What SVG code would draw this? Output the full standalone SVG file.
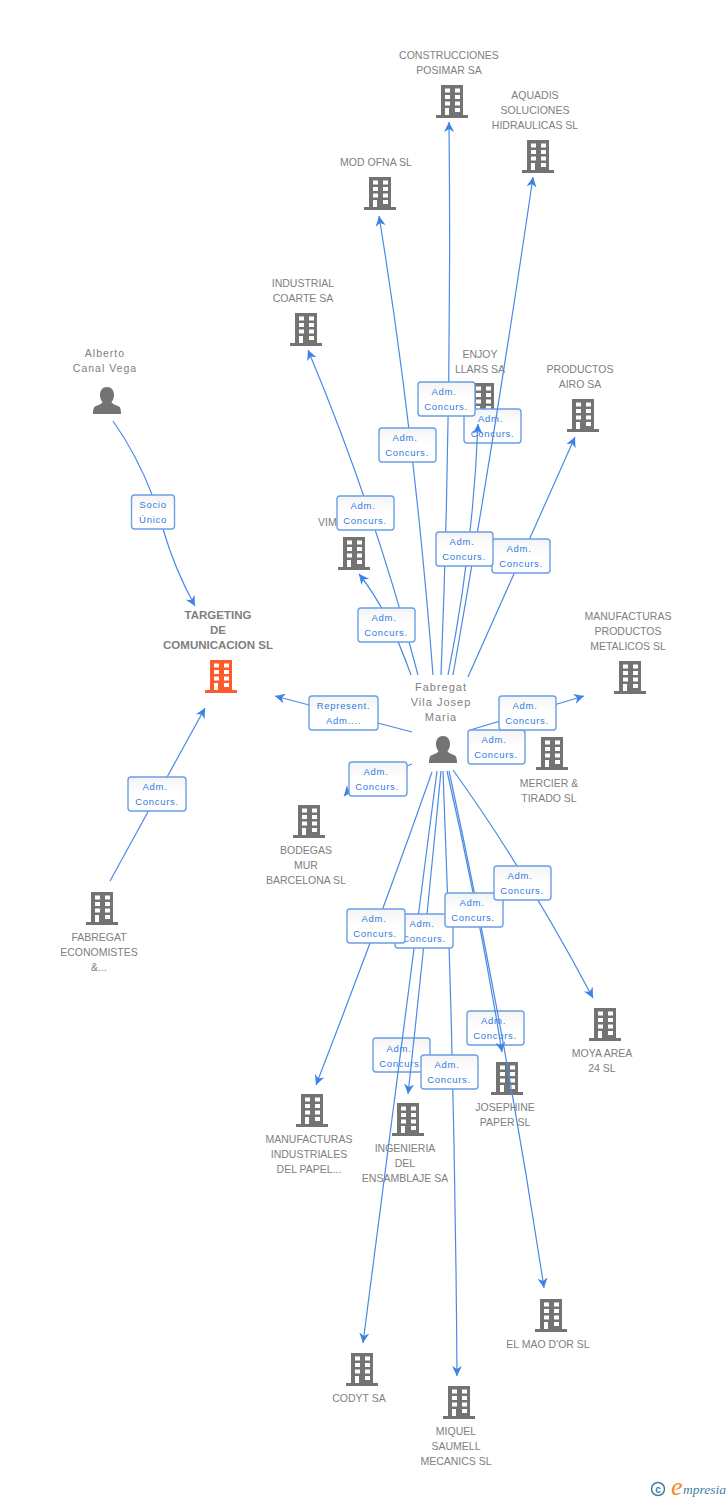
<svg xmlns="http://www.w3.org/2000/svg" width="728" height="1500" viewBox="0 0 728 1500">
<style>
.n{font:10.5px "Liberation Sans",Arial,sans-serif;fill:#808080;text-anchor:middle}
.p{font:10.5px "Liberation Sans",Arial,sans-serif;fill:#808080;text-anchor:middle;letter-spacing:1px}
.f{font:11px "Liberation Sans",Arial,sans-serif;fill:#808080;text-anchor:middle;letter-spacing:1px}
.b{font:bold 11.5px "Liberation Sans",Arial,sans-serif;fill:#808080;text-anchor:middle}
.l{font:9.5px "Liberation Sans",Arial,sans-serif;fill:#2f7be0;text-anchor:middle;letter-spacing:.7px}
.r{fill:url(#g);stroke:#6a9fe8;stroke-width:1.4}
.c{fill:none;stroke:#4a8ae6;stroke-width:1.2}
.a{marker-end:url(#ar)}
</style>
<defs>
<linearGradient id="g" x1="0" y1="0" x2="0" y2="1"><stop offset="0" stop-color="#f4f4f4"/><stop offset=".5" stop-color="#fff"/></linearGradient>
<marker id="ar" markerUnits="userSpaceOnUse" markerWidth="12" markerHeight="12" refX="10" refY="5" orient="auto"><path d="M10,5 L0,0 L3,5 L0,10 Z" fill="#3d82e4"/></marker>
<symbol id="bld" overflow="visible"><path fill="#737373" d="M-11,0H11V30H16V33H-16V30H-11Z"/><path fill="#fff" d="M-7,3.5h5v4h-5zM3,3.5h5v4h-5zM-7,10h5v4h-5zM3,10h5v4h-5zM-7,16.5h5v4h-5zM3,16.5h5v4h-5zM-7,23h4v7h-4zM3,23h5v4h-5z"/></symbol>
<symbol id="bldo" overflow="visible"><path fill="#ff5a2c" d="M-11,0H11V30H16V33H-16V30H-11Z"/><path fill="#fff" d="M-7,3.5h5v4h-5zM3,3.5h5v4h-5zM-7,10h5v4h-5zM3,10h5v4h-5zM-7,16.5h5v4h-5zM3,16.5h5v4h-5zM-7,23h4v7h-4zM3,23h5v4h-5z"/></symbol>
<symbol id="per" overflow="visible"><path fill="#737373" d="M0,0C4.5,0 7,3.500 7,8C7,11 6,13.500 4.500,15C5,17 9,18 12,19.500C13.500,20.500 14,23 14,27H-14C-14,23 -13.500,20.500 -12,19.500C-9,18 -5,17 -4.500,15C-6,13.500 -7,11 -7,8C-7,3.500 -4.500,0 0,0Z"/></symbol>
</defs>
<g id="node-posimar"><text class="n" x="449" y="59">CONSTRUCCIONES</text><text class="n" x="449" y="74">POSIMAR SA</text><use href="#bld" x="452" y="85"/></g>
<g id="node-aquadis"><text class="n" x="535" y="99">AQUADIS</text><text class="n" x="535" y="114">SOLUCIONES</text><text class="n" x="535" y="129">HIDRAULICAS SL</text><use href="#bld" x="538" y="140"/></g>
<g id="node-modofna"><text class="n" x="376" y="166">MOD OFNA SL</text><use href="#bld" x="380" y="177"/></g>
<g id="node-coarte"><text class="n" x="303" y="287">INDUSTRIAL</text><text class="n" x="303" y="302">COARTE SA</text><use href="#bld" x="306" y="313"/></g>
<g id="node-alberto"><text class="p" x="105" y="357">Alberto</text><text class="p" x="105" y="372">Canal Vega</text><use href="#per" x="107" y="387"/></g>
<g id="node-enjoy"><text class="n" x="480" y="358">ENJOY</text><text class="n" x="480" y="373">LLARS SA</text><use href="#bld" x="483" y="383"/></g>
<g id="node-airo"><text class="n" x="580" y="373">PRODUCTOS</text><text class="n" x="580" y="388">AIRO SA</text><use href="#bld" x="583" y="399"/></g>
<g id="node-vim"><text class="n" x="318" y="526" style="text-anchor:start">VIM</text><use href="#bld" x="354" y="537"/></g>
<g id="node-targeting"><text class="b" x="218" y="619">TARGETING</text><text class="b" x="218" y="634">DE</text><text class="b" x="218" y="649">COMUNICACION SL</text><use href="#bldo" x="221" y="660"/></g>
<g id="node-metalicos"><text class="n" x="628" y="620">MANUFACTURAS</text><text class="n" x="628" y="635">PRODUCTOS</text><text class="n" x="628" y="650">METALICOS SL</text><use href="#bld" x="630" y="661"/></g>
<g id="node-fabregat"><text class="f" x="441" y="691">Fabregat</text><text class="f" x="441" y="706">Vila Josep</text><text class="f" x="441" y="721">Maria</text><use href="#per" x="443" y="736"/></g>
<g id="node-mercier"><use href="#bld" x="552" y="737"/><text class="n" x="549" y="787">MERCIER &amp;</text><text class="n" x="549" y="802">TIRADO SL</text></g>
<g id="node-bodegas"><use href="#bld" x="309" y="805"/><text class="n" x="306" y="854">BODEGAS</text><text class="n" x="306" y="869">MUR</text><text class="n" x="306" y="884">BARCELONA SL</text></g>
<g id="node-economistes"><use href="#bld" x="102" y="892"/><text class="n" x="99" y="941">FABREGAT</text><text class="n" x="99" y="956">ECONOMISTES</text><text class="n" x="99" y="971">&amp;...</text></g>
<g id="node-moya"><use href="#bld" x="605" y="1008"/><text class="n" x="602" y="1057">MOYA AREA</text><text class="n" x="602" y="1072">24 SL</text></g>
<g id="node-papel"><use href="#bld" x="312" y="1094"/><text class="n" x="309" y="1143">MANUFACTURAS</text><text class="n" x="309" y="1158">INDUSTRIALES</text><text class="n" x="309" y="1173">DEL PAPEL...</text></g>
<g id="node-ensamblaje"><use href="#bld" x="408" y="1103"/><text class="n" x="405" y="1152">INGENIERIA</text><text class="n" x="405" y="1167">DEL</text><text class="n" x="405" y="1182">ENSAMBLAJE SA</text></g>
<g id="node-josephine"><use href="#bld" x="507" y="1062"/><text class="n" x="505" y="1111">JOSEPHINE</text><text class="n" x="505" y="1126">PAPER SL</text></g>
<g id="node-elmao"><use href="#bld" x="551" y="1299"/><text class="n" x="548" y="1348">EL MAO D'OR SL</text></g>
<g id="node-codyt"><use href="#bld" x="362" y="1353"/><text class="n" x="359" y="1402">CODYT SA</text></g>
<g id="node-miquel"><use href="#bld" x="459" y="1386"/><text class="n" x="456" y="1435">MIQUEL</text><text class="n" x="456" y="1450">SAUMELL</text><text class="n" x="456" y="1465">MECANICS SL</text></g>
<g id="labels-back">
<g><rect class="r" x="464" y="409" width="57" height="34" rx="3"/><text class="l" x="490.500" y="422">Adm.</text><text class="l" x="492.500" y="437">Concurs.</text></g>
<g><rect class="r" x="467" y="1011" width="57" height="34" rx="3"/><text class="l" x="493.500" y="1024">Adm.</text><text class="l" x="495" y="1039">Concurs.</text></g>
<g><rect class="r" x="373" y="1038" width="57" height="34" rx="3"/><text class="l" x="399" y="1052">Adm.</text><text class="l" x="401" y="1067">Concurs.</text></g>
</g>
<g id="connectors">
<path class="c" d="M113,421Q137,455 153,497"/><path class="c a" d="M163,529Q175,570 195,606"/>
<path class="c a" d="M110,881L205,708"/>
<path class="c a" d="M412,732L275,696"/>
<path class="c" d="M412,764L407,766"/><path class="c a" d="M360,778L344,796"/>
<path class="c a" d="M411,675Q388,610 359,574"/>
<path class="c a" d="M418,675Q375,510 308,350"/>
<path class="c a" d="M433,675Q414,430 379,216"/>
<path class="c a" d="M441,675Q452,400 449,122"/>
<path class="c a" d="M448,675Q473,550 478,424"/>
<path class="c a" d="M453,675Q496,430 533,177"/>
<path class="c a" d="M468,677L575,437"/>
<path class="c a" d="M470,730L584,696"/>
<path class="c a" d="M453,770Q525,870 593,998"/>
<path class="c a" d="M432,772Q380,920 316,1085"/>
<path class="c a" d="M437,771Q400,1060 363,1343"/>
<path class="c a" d="M441,771Q425,940 408,1094"/>
<path class="c a" d="M443,771Q455,1070 457,1376"/>
<path class="c a" d="M447,771Q479,911 502,1052"/>
<path class="c a" d="M449,771Q505,1030 544,1288"/>
</g>
<g id="labels">
<g><rect class="r" x="131.500" y="495" width="43" height="34" rx="3"/><text class="l" x="153" y="508">Socio</text><text class="l" x="153" y="523">Único</text></g>
<g><rect class="r" x="128" y="777" width="58" height="34" rx="3"/><text class="l" x="155" y="790">Adm.</text><text class="l" x="157" y="805">Concurs.</text></g>
<g><rect class="r" x="309" y="696" width="69" height="34" rx="3"/><text class="l" x="343.500" y="709">Represent.</text><text class="l" x="343.500" y="724">Adm....</text></g>
<g><rect class="r" x="349" y="762" width="58" height="34" rx="3"/><text class="l" x="376" y="775">Adm.</text><text class="l" x="377" y="790">Concurs.</text></g>
<g><rect class="r" x="468" y="730" width="57" height="34" rx="3"/><text class="l" x="494" y="743">Adm.</text><text class="l" x="496" y="758">Concurs.</text></g>
<g><rect class="r" x="499" y="696" width="57" height="34" rx="3"/><text class="l" x="525" y="709">Adm.</text><text class="l" x="527" y="724">Concurs.</text></g>
<g><rect class="r" x="358" y="608" width="57" height="34" rx="3"/><text class="l" x="384" y="621">Adm.</text><text class="l" x="386" y="636">Concurs.</text></g>
<g><rect class="r" x="337" y="496" width="57" height="34" rx="3"/><text class="l" x="363" y="509">Adm.</text><text class="l" x="365" y="524">Concurs.</text></g>
<g><rect class="r" x="379" y="428" width="57" height="34" rx="3"/><text class="l" x="405" y="441">Adm.</text><text class="l" x="407" y="456">Concurs.</text></g>
<g><rect class="r" x="418" y="382" width="57" height="34" rx="3"/><text class="l" x="444" y="395">Adm.</text><text class="l" x="446" y="410">Concurs.</text></g>
<g><rect class="r" x="492" y="539" width="58" height="34" rx="3"/><text class="l" x="519" y="552">Adm.</text><text class="l" x="521" y="567">Concurs.</text></g>
<g><rect class="r" x="436" y="532" width="57" height="34" rx="3"/><text class="l" x="462" y="545">Adm.</text><text class="l" x="464" y="560">Concurs.</text></g>
<g><rect class="r" x="395" y="914" width="58" height="34" rx="3"/><text class="l" x="422" y="927">Adm.</text><text class="l" x="424" y="942">Concurs.</text></g>
<g><rect class="r" x="347" y="909" width="58" height="34" rx="3"/><text class="l" x="374" y="922">Adm.</text><text class="l" x="375" y="937">Concurs.</text></g>
<g><rect class="r" x="445" y="893" width="58" height="34" rx="3"/><text class="l" x="472" y="906">Adm.</text><text class="l" x="473" y="921">Concurs.</text></g>
<g><rect class="r" x="494" y="866" width="57" height="34" rx="3"/><text class="l" x="520" y="879">Adm.</text><text class="l" x="522" y="894">Concurs.</text></g>
<g><rect class="r" x="421" y="1055" width="57" height="34" rx="3"/><text class="l" x="447" y="1068">Adm.</text><text class="l" x="449" y="1083">Concurs.</text></g>
</g>
<g id="logo">
<circle cx="658" cy="1489" r="6.500" fill="none" stroke="#3f7f9f" stroke-width="1.500"/>
<text x="658" y="1492.500" font-family="Liberation Sans, sans-serif" font-size="10" font-weight="bold" fill="#3f7f9f" text-anchor="middle">c</text>
<text x="671" y="1495" font-family="Liberation Serif, serif" font-style="italic" font-size="26" fill="#f08a24">e</text>
<text x="683" y="1494" font-family="Liberation Serif, serif" font-style="italic" font-size="13.500" fill="#3f7f9f">mpresia</text>
</g>
</svg>
